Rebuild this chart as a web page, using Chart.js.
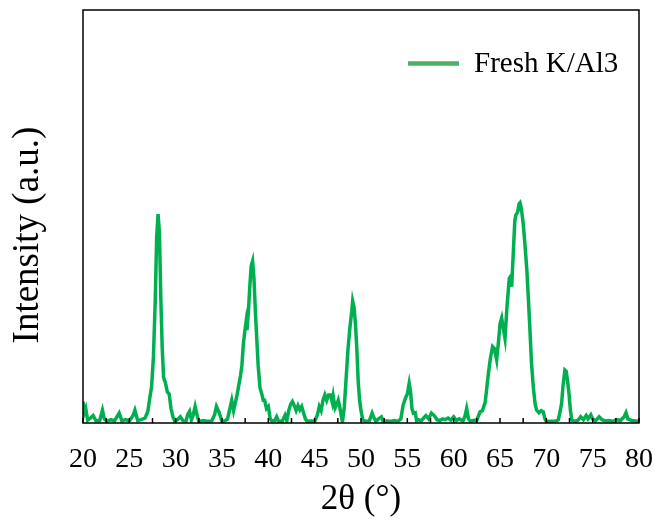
<!DOCTYPE html>
<html>
<head>
<meta charset="utf-8">
<script src="https://cdn.jsdelivr.net/npm/chart.js@4/dist/chart.umd.min.js"></script>
<style>
  body { margin: 0; background: #fff; }
  #wrap { width: 655px; height: 519px; }
</style>
</head>
<body>
<div id="wrap"><canvas id="xrd" width="655" height="519"></canvas></div>
<script>
// XRD pattern, Fresh K/Al3
const seriesName = "Fresh K/Al3";
const xTickLabels = ["20", "25", "30", "35", "40", "45", "50", "55", "60", "65", "70", "75", "80"];

const twoTheta = [
  20.0, 20.15, 20.3, 20.5, 20.8, 21.1, 21.4, 21.8, 22.1, 22.3, 22.6, 23.0, 23.4, 23.9, 24.2, 24.6,
  25.0, 25.4, 25.6, 25.9, 26.3, 26.7, 27.0, 27.2, 27.4, 27.6, 27.8, 27.95, 28.1, 28.25, 28.4, 28.55,
  28.7, 28.9, 29.1, 29.3, 29.5, 29.7, 29.9, 30.2, 30.5, 30.8, 31.1, 31.3, 31.5, 31.7, 31.9, 32.1,
  32.3, 32.5, 33.0, 33.5, 33.9, 34.2, 34.4, 34.7, 35.0, 35.3, 35.6, 35.85, 36.05, 36.25, 36.4, 36.6,
  36.8, 37.0, 37.15, 37.3, 37.45, 37.6, 37.7, 37.85, 38.0, 38.15, 38.3, 38.45, 38.6, 38.75, 38.9, 39.1,
  39.3, 39.45, 39.6, 39.8, 40.0, 40.2, 40.4, 40.7, 40.9, 41.1, 41.5, 41.8, 42.0, 42.2, 42.4, 42.6,
  42.8, 43.0, 43.2, 43.4, 43.6, 43.8, 44.0, 44.2, 44.6, 45.0, 45.3, 45.5, 45.7, 45.9, 46.1, 46.3,
  46.5, 46.7, 46.9, 47.0, 47.2, 47.4, 47.55, 47.7, 47.85, 48.0, 48.2, 48.4, 48.6, 48.8, 49.0, 49.1,
  49.25, 49.4, 49.55, 49.7, 49.85, 50.0, 50.2, 50.5, 50.9, 51.2, 51.35, 51.6, 52.0, 52.2, 52.4, 52.8,
  53.2, 53.6, 54.0, 54.3, 54.55, 54.8, 55.0, 55.2, 55.35, 55.5, 55.65, 55.85, 56.0, 56.2, 56.5, 56.8,
  57.0, 57.3, 57.6, 57.9, 58.2, 58.5, 58.8, 59.1, 59.4, 59.7, 60.0, 60.3, 60.6, 61.0, 61.2, 61.4,
  61.6, 61.8, 62.1, 62.5, 62.85, 63.1, 63.4, 63.6, 63.75, 63.95, 64.2, 64.4, 64.64, 64.85, 65.0, 65.18,
  65.35, 65.54, 65.75, 66.0, 66.15, 66.26, 66.45, 66.6, 66.72, 66.9, 67.05, 67.16, 67.3, 67.5, 67.7, 67.9,
  68.05, 68.2, 68.4, 68.6, 68.8, 68.96, 69.2, 69.45, 69.67, 69.85, 70.03, 70.4, 70.8, 71.1, 71.3, 71.5,
  71.65, 71.8, 72.0, 72.15, 72.3, 72.45, 72.6, 72.75, 73.0, 73.4, 73.7, 74.0, 74.3, 74.5, 74.8, 75.0,
  75.3, 75.7, 76.0, 76.4, 76.8, 77.2, 77.6, 78.0, 78.4, 78.6, 78.8, 79.2, 79.6, 80.0
];

const intensity = [
  5.2, 2.5, 3.5, 0.7, 1.2, 1.8, 0.5, 0.6, 3.1, 1.0, 0.4, 0.8, 0.5, 2.4, 0.5, 0.8,
  0.5, 1.8, 3.1, 0.6, 0.8, 1.2, 2.8, 6.0, 8.7, 16, 30, 45, 50.6, 46, 30, 18,
  11, 9.7, 7.5, 7.0, 3.5, 1.5, 0.4, 0.8, 1.5, 0.5, 0.4, 2.0, 2.8, 0.8, 2.0, 4.0,
  2.0, 0.4, 0.6, 0.4, 0.5, 2.0, 4.0, 2.5, 0.4, 0.5, 1.0, 3.5, 5.5, 3.0, 4.5, 6.5,
  9.0, 11.5, 14, 19, 22, 24.5, 22.5, 27, 33, 38, 39.2, 35, 27, 20.5, 14, 8.5,
  7, 5.5, 5.5, 3.5, 4.0, 1.0, 0.5, 0.6, 1.5, 0.4, 0.4, 1.9, 0.6, 3.0, 4.5, 5.2,
  4.2, 3.0, 4.2, 3.2, 4.0, 2.5, 1.0, 0.4, 0.5, 0.4, 2.0, 4.0, 3.0, 5.5, 6.8, 5.5,
  6.8, 6.8, 5.0, 6.5, 3.6, 4.5, 5.5, 4.0, 2.0, 0.3, 4.0, 11, 18, 23, 27, 29.5,
  28, 24, 18, 10, 5.5, 3.0, 0.7, 0.4, 0.5, 2.4, 1.5, 0.4, 1.2, 1.5, 0.4, 0.5,
  0.4, 0.6, 0.4, 1.0, 4.4, 6.0, 7.0, 9.6, 7.5, 3.5, 2.4, 2.5, 0.6, 0.8, 0.5, 1.3,
  1.8, 1.0, 2.4, 1.8, 0.8, 0.6, 1.0, 0.8, 1.2, 0.7, 1.5, 0.6, 1.0, 0.5, 1.5, 3.5,
  1.0, 0.4, 0.6, 0.7, 2.7, 3.0, 5.0, 9, 12, 15.5, 18.5, 18, 15.3, 20, 24, 25.4,
  23, 20.5, 28, 35, 35.5, 33, 42, 49, 50.4, 51, 53, 53.3, 52, 48.4, 43, 37,
  30.6, 24, 14.5, 8.5, 4.5, 3.1, 2.5, 3.0, 2.7, 1.0, 0.3, 0.4, 0.4, 0.5, 0.8, 3.0,
  4.8, 9, 12.8, 12.5, 10, 7, 3, 0.7, 0.4, 0.6, 1.5, 0.8, 1.8, 1.0, 2.0, 1.0,
  0.5, 1.5, 0.8, 0.5, 0.6, 0.4, 0.8, 0.6, 1.5, 2.5, 1.0, 0.6, 0.5, 0.4
];

const lineColor = '#00b050';
const legendColor = '#4caf6a';
const serif = "'Liberation Serif', 'DejaVu Serif', serif";

// frame box, inward ticks and legend drawn on top of the chart area
const framePlugin = {
  id: 'frame',
  afterDraw(chart) {
    const { ctx, chartArea: a, scales } = chart;
    ctx.save();
    ctx.strokeStyle = '#000';
    ctx.lineWidth = 1.5;
    ctx.strokeRect(a.left, a.top, a.right - a.left, a.bottom - a.top);

    // inward ticks every 2.5
    scales.x.ticks.forEach(t => {
      const px = scales.x.getPixelForValue(t.value);
      ctx.beginPath();
      ctx.moveTo(px, a.bottom);
      ctx.lineTo(px, a.bottom - 5);
      ctx.stroke();
    });

    // legend
    const ly = a.top + 53.5;
    ctx.strokeStyle = legendColor;
    ctx.lineWidth = 4.5;
    ctx.beginPath();
    ctx.moveTo(a.right - 231, ly);
    ctx.lineTo(a.right - 180, ly);
    ctx.stroke();
    ctx.fillStyle = '#000';
    ctx.font = "29px " + serif;
    ctx.textBaseline = 'middle';
    ctx.fillText(seriesName, a.right - 165, ly + 1);
    ctx.restore();
  }
};

const ctx = document.getElementById('xrd').getContext('2d');
new Chart(ctx, {
  type: 'line',
  data: {
    datasets: [{
      label: seriesName,
      data: twoTheta.map((x, i) => ({ x: x, y: intensity[i] })),
      borderColor: lineColor,
      borderWidth: 3.5,
      pointRadius: 0,
      tension: 0,
      fill: false
    }]
  },
  options: {
    responsive: false,
    animation: false,
    layout: { padding: { top: 10, right: 0, left: 0, bottom: 0 } },
    plugins: {
      legend: { display: false },
      tooltip: { enabled: false }
    },
    scales: {
      x: {
        type: 'linear',
        min: 20,
        max: 80,
        border: { display: false },
        grid: { display: false, drawTicks: false },
        ticks: {
          stepSize: 2.5,
          autoSkip: false,
          maxRotation: 0,
          padding: 20,
          color: '#000',
          font: { family: serif, size: 28 },
          callback: v => {
            const i = xTickLabels.indexOf(String(v));
            return i >= 0 ? xTickLabels[i] : '';
          }
        },
        title: {
          display: true,
          text: '2θ (°)',
          color: '#000',
          font: { family: serif, size: 35, lineHeight: 1 },
          padding: { top: 0, bottom: 2 }
        },
        afterFit: s => { s.height = 96; s.paddingLeft = 0; s.paddingRight = 16; }
      },
      y: {
        min: 0,
        max: 100,
        border: { display: false },
        grid: { display: false, drawTicks: false },
        ticks: { display: false },
        title: {
          display: true,
          // trailing em space nudges the centred title slightly downwards
          text: 'Intensity (a.u.)\u2003',
          color: '#000',
          font: { family: serif, size: 37, lineHeight: 1 },
          padding: { top: 10, bottom: 0 }
        },
        afterFit: s => { s.width = 83; }
      }
    }
  },
  plugins: [framePlugin]
});
</script>
</body>
</html>
